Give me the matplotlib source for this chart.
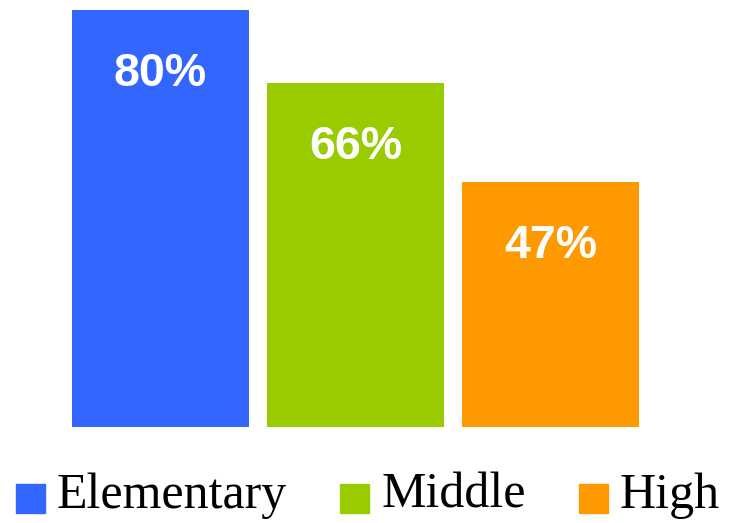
import matplotlib.pyplot as plt
from matplotlib.patches import Rectangle

categories = ["Elementary", "Middle", "High"]
values = [80, 66, 47]
colors = ["#3366FF", "#99CC00", "#FF9900"]

W, H = 730, 523
fig = plt.figure(figsize=(W / 100, H / 100), dpi=100)
ax = fig.add_axes([72 / W, 96 / H, 567 / W, 417 / H])

x = range(len(categories))
width = 0.908
bars = ax.bar(x, values, width=width, color=colors)

for xi, v in zip(x, values):
    ax.annotate(f"{v}%", (xi, v), xytext=(0, -46), textcoords="offset points",
                ha="center", va="center", color="white", fontsize=33.5,
                fontweight="bold", family="Liberation Sans")

ax.set_xlim(-width / 2, len(categories) - 1 + width / 2)
ax.set_ylim(0, 80)
ax.axis("off")

# legend row along the bottom: square swatch + serif label, laid out in pixels
renderer = fig.canvas.get_renderer()
sq, pad, colgap = 29, 12, 53
cursor = 16
for name, c in zip(categories, colors):
    fig.add_artist(Rectangle((cursor / W, 10 / H), sq / W, sq / H,
                             transform=fig.transFigure, color=c))
    t = fig.text((cursor + sq + pad) / W, 15 / H, name, ha="left", va="baseline",
                 family="Liberation Serif", fontsize=36)
    tw = t.get_window_extent(renderer).width
    cursor += sq + pad + tw + colgap

fig.savefig("out.png", dpi=100)
